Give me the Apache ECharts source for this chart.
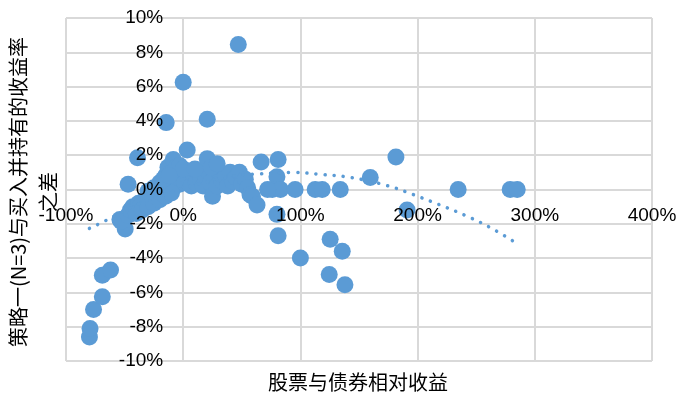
<!DOCTYPE html>
<html>
<head>
<meta charset="utf-8">
<script src="https://cdn.jsdelivr.net/npm/echarts@6/dist/echarts.min.js"></script>
<style>
html,body{margin:0;padding:0;background:#fff;}
#chart{width:684px;height:396px;}
</style>
</head>
<body>
<div id="chart"></div>
<script>
// axis ticks and names
var xTicks = [-100, 0, 100, 200, 300, 400];
var yTicks = [-10, -8, -6, -4, -2, 0, 2, 4, 6, 8, 10];
var xName = '股票与债券相对收益';
var yName = '策略一(N=3)与买入并持有的收益率\n之差';

// scatter points: x = relative return (%), y = return difference (%)
var pointsX = [
  -80, -79.5, -76.5, -69, -69, -62, -54, -49.5, -53,
  -47, -45, -43, -40, -38, -36, -33, -30, -28, -25, -22, -20, -17, -15, -13, -11,
  -9, -7, -5, -3, -1, 1, 3, 5, 7, 9, 11, 13, 15, 17, 19, 21, 23, 25, 27, 29,
  31, 33, 36, 38, 40, 42, 45, 48, 50, 53, 55, 57, 59, 63,
  -15, -13, -10, -8.5, -6, -3, 0, 3.4, 10, 20.5, 24, 29, -47, -39,
  -40, -35, -30, -25, -20, -15, -10, -30, -25, -20, -17, -12,
  47, 0, 20.5, -14.5,
  66.5, 81, 80, 76, 83, 72, 95.5, 112.6, 118.6, 134, 159.6, 181.5, 191, 234.6, 279, 285,
  80, 81, 100, 125.4, 135.7, 124.6, 138
];
var pointsY = [
  -8.6, -8.1, -7.0, -6.25, -5.0, -4.7, -1.75, -2.3, -1.85,
  -1.5, -1.2, -1.0, -1.1, -0.8, -0.9, -0.6, -0.7, -0.4, -0.5, -0.2, -0.3, 0.0, -0.1, 0.3, 0.0,
  0.5, 0.2, 0.7, 0.3, 0.9, 0.4, 1.1, 0.6, 0.2, 0.9, 0.4, 1.0, 0.6, 0.2, 0.8, 1.1, 0.4, -0.4, 0.7, 0.2,
  1.0, 0.5, 0.8, 0.2, 1.0, 0.5, 0.7, 1.0, 0.3, 0.6, 0.1, -0.3, -0.4, -0.9,
  0.8, 1.3, 1.0, 1.75, 1.3, 1.4, 1.2, 2.3, 1.2, 1.8, 1.3, 1.5, 0.3, 1.85,
  -1.4, -1.2, -1.0, -0.8, -0.6, -0.4, -0.2, -0.1, 0.1, 0.4, 0.6, 0.8,
  8.45, 6.25, 4.1, 3.9,
  1.6, 1.75, 0.75, 0.0, 0.0, 0.0, 0.0, 0.0, 0.0, 0.0, 0.7, 1.9, -1.2, 0.0, 0.0, 0.0,
  -1.45, -2.7, -4.0, -2.9, -3.6, -4.95, -5.55
];

// dotted trend line
var trendX = [-80, -66, -40, -10, 20, 45, 63, 95, 119, 143, 174, 196, 218, 241, 262, 282];
var trendY = [-2.27, -1.81, -0.9, -0.15, 0.45, 0.8, 0.9, 0.99, 0.87, 0.70, 0.23, -0.29, -0.87, -1.52, -2.22, -3.03];

var scatterData = pointsX.map(function (x, i) { return [x, pointsY[i]]; });
var trendData = trendX.map(function (x, i) { return [x, trendY[i]]; });

var gridColor = '#d9d9d9';
var labelFont = '"Liberation Sans", Arial, Helvetica, sans-serif';
var cjkFont = '"Noto Sans CJK SC", sans-serif';

var gridLeft = 66, gridRight = 32, gridTop = 18, gridBottom = 35;
var plotW = 684 - gridLeft - gridRight, plotH = 396 - gridTop - gridBottom;
// move axes so they cross at zero
var xAxisOffset = -plotH * (0 - yTicks[0]) / (yTicks[yTicks.length - 1] - yTicks[0]);
var yAxisOffset = -plotW * (0 - xTicks[0]) / (xTicks[xTicks.length - 1] - xTicks[0]);

function xAxisBase(labels) {
  return {
    type: 'value', position: 'bottom', offset: xAxisOffset,
    min: xTicks[0], max: xTicks[xTicks.length - 1], interval: 100,
    axisLine: {show: !labels, onZero: false, lineStyle: {color: gridColor, width: 2}},
    axisTick: {show: false},
    axisLabel: {show: labels, formatter: '{value}%', color: '#000', fontSize: 19, fontFamily: labelFont, margin: 17},
    splitLine: {show: !labels, lineStyle: {color: gridColor, width: 2}},
    z: labels ? 10 : 0
  };
}
function yAxisBase(labels) {
  return {
    type: 'value', position: 'left', offset: yAxisOffset,
    min: yTicks[0], max: yTicks[yTicks.length - 1], interval: 2,
    axisLine: {show: !labels, onZero: false, lineStyle: {color: gridColor, width: 2}},
    axisTick: {show: false},
    axisLabel: {show: labels, formatter: '{value}%', color: '#000', fontSize: 19, fontFamily: labelFont, margin: 20},
    splitLine: {show: !labels, lineStyle: {color: gridColor, width: 2}},
    z: labels ? 10 : 0
  };
}

var chart = echarts.init(document.getElementById('chart'), null, {renderer: 'canvas'});
chart.setOption({
  animation: false,
  backgroundColor: '#ffffff',
  grid: {left: gridLeft, right: gridRight, top: gridTop, bottom: gridBottom, containLabel: false},
  xAxis: [xAxisBase(false), xAxisBase(true)],
  yAxis: [yAxisBase(false), yAxisBase(true)],
  graphic: [
    {
      type: 'text', x: 358, y: 382,
      style: {text: xName, font: '20px ' + cjkFont, fill: '#000', align: 'center', verticalAlign: 'middle'}
    },
    {
      type: 'text', x: 33, y: 192, rotation: Math.PI / 2,
      style: {text: yName, font: '20px ' + cjkFont, fill: '#000', align: 'center', verticalAlign: 'middle', lineHeight: 30}
    }
  ],
  series: [
    {
      type: 'scatter',
      xAxisIndex: 0, yAxisIndex: 0,
      data: scatterData,
      symbol: 'circle',
      symbolSize: 17,
      itemStyle: {color: '#5b9bd5', opacity: 1},
      z: 2
    },
    {
      type: 'line',
      xAxisIndex: 0, yAxisIndex: 0,
      data: trendData,
      smooth: 0.4,
      symbol: 'none',
      lineStyle: {color: '#5b9bd5', width: 3.5, type: [0.1, 9], cap: 'round'},
      z: 3
    }
  ]
});
</script>
</body>
</html>
